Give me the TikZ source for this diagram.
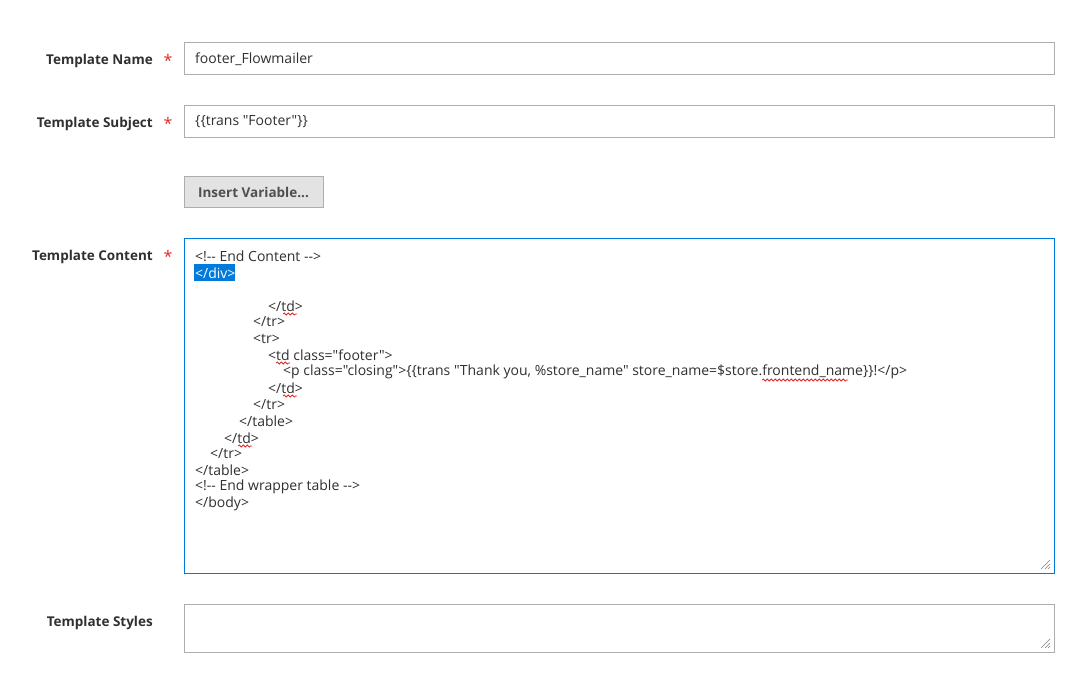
\documentclass[tikz,border=0pt]{standalone}
\usepackage{fontspec}
\setmainfont{Open Sans}
\newfontfamily\codefont{Open Sans}
\usetikzlibrary{decorations.pathmorphing}
\definecolor{ink}{HTML}{303030}
\definecolor{edge}{HTML}{ADADAD}
\definecolor{focus}{HTML}{007BDB}
\definecolor{star}{HTML}{E22626}
\definecolor{btnfill}{HTML}{E3E3E3}
\tikzset{
  fieldlabel/.style={anchor=east, font=\fontsize{13.5}{16}\selectfont\bfseries, text=ink, inner sep=0pt},
  req/.style={anchor=center, font=\fontsize{16}{16}\selectfont, text=star, inner sep=0pt},
  fieldbox/.style={draw=edge, fill=white, line width=1pt},
  fieldtext/.style={anchor=west, font=\codefont\fontsize{14}{16}\selectfont, text=ink, inner sep=0pt},
  codeline/.style={anchor=west, font=\codefont\fontsize{14}{16}\selectfont, text=ink, inner sep=0pt},
  spell/.style={draw=star, line width=0.8pt, decorate, decoration={snake, amplitude=1pt, segment length=4pt}},
  grip/.style={draw=gray, line width=0.6pt}
}
\begin{document}
\begin{tikzpicture}[x=1pt, y=-1pt]
\useasboundingbox (0,0) rectangle (1084,680);

% template name
\node[fieldlabel] (lname) at (153,61) {Template Name};
\node[req] (rname) at (168,60) {*};
\draw[fieldbox] (184,42) rectangle (1054,74);
\node[fieldtext] (tname) at (195,59) {footer\_Flowmailer};

% template subject
\node[fieldlabel] (lsubj) at (153,124) {Template Subject};
\node[req] (rsubj) at (168,123) {*};
\draw[fieldbox] (184,105) rectangle (1054,137);
\node[fieldtext] (tsubj) at (195,122) {\{\{trans "Footer"\}\}};

% insert variable button
\draw[draw=edge, fill=btnfill, line width=1pt] (184,176) rectangle (323,207);
\node[font=\fontsize{13.5}{16}\selectfont\bfseries, text=ink!85] (btn) at (253.5,192.5) {Insert Variable...};

% template content
\node[fieldlabel] (lcont) at (153,257) {Template Content};
\node[req] (rcont) at (168,256) {*};
\draw[draw=focus, fill=white, line width=1pt] (184,238) rectangle (1054,573);
\fill[focus] (194,264) rectangle (235,281);
\node[codeline] (c1) at (195,256) {<!-- End Content -->};
\node[codeline, text=white] (c2) at (195,273) {</div>};
\foreach \x/\y/\txt in {268/306/{</td>}, 253/322/{</tr>}, 253/339/{<tr>},
  268/355/{<td class="footer">},
  283/372/{<p class="closing">\{\{trans "Thank you, \%store\_name" store\_name=\$store.frontend\_name\}\}!</p>},
  268/388/{</td>}, 253/405/{</tr>}, 239/421/{</table>}, 224/438/{</td>},
  210/454/{</tr>}, 195/470/{</table>}, 195/487/{<!-- End wrapper table -->}, 195/504/{</body>}}
  \node[codeline] at (\x,\y) {\txt};

% spelling marks
\draw[spell] (283,314) -- (297,314);
\draw[spell] (276,363) -- (290,363);
\draw[spell] (283,396) -- (297,396);
\draw[spell] (238,446) -- (252,446);
\draw[spell] (762,380) -- (848,380);

% resize grip
\draw[grip] (1050,560) -- (1041,569) (1050,564) -- (1045,569) (1050,567) -- (1048,569);

% template styles
\node[fieldlabel] (lstyl) at (153,623) {Template Styles};
\draw[fieldbox] (184,604) rectangle (1054,652);
\draw[grip] (1050,639) -- (1041,648) (1050,643) -- (1045,648) (1050,646) -- (1048,648);
\end{tikzpicture}
\end{document}
